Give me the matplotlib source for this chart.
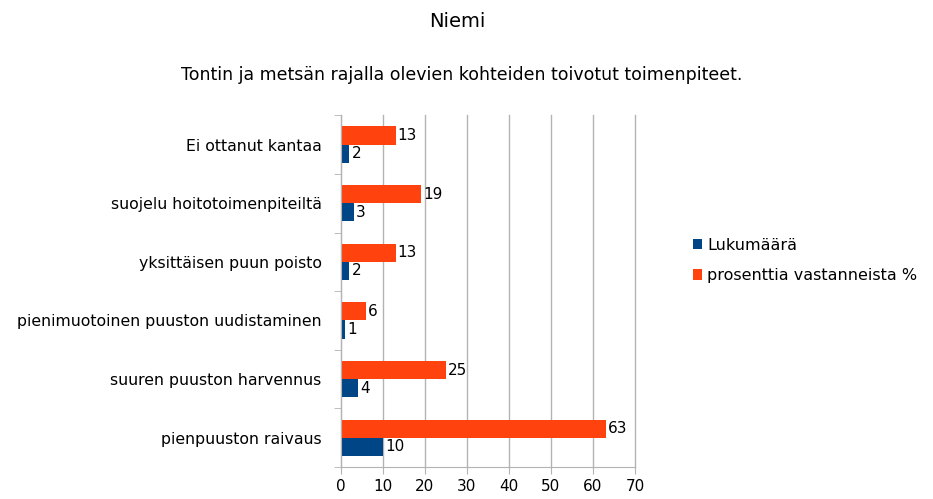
import matplotlib
matplotlib.use('Agg')
import matplotlib.pyplot as plt
import numpy as np

categories = ['Ei ottanut kantaa', 'suojelu hoitotoimenpiteiltä', 'yksittäisen puun poisto',
              'pienimuotoinen puuston uudistaminen', 'suuren puuston harvennus', 'pienpuuston raivaus']
lukumaara = [2, 3, 2, 1, 4, 10]
prosentti = [13, 19, 13, 6, 25, 63]
series_names = ['Lukumäärä', 'prosenttia vastanneista %']
colors = ['#004586', '#ff420e']

plt.rcParams['font.family'] = ['DejaVu Sans']

fig = plt.figure(figsize=(9.33, 4.99), dpi=100)
ax = fig.add_axes([0.3655, 0.064, 0.315, 0.705])

y = np.arange(len(categories))[::-1]
h = 0.31
b1 = ax.barh(y - h / 2, lukumaara, height=h, color=colors[0], label=series_names[0])
b2 = ax.barh(y + h / 2, prosentti, height=h, color=colors[1], label=series_names[1])

for bars, vals in [(b1, lukumaara), (b2, prosentti)]:
    for bar, v in zip(bars, vals):
        ax.text(bar.get_width() + 0.5, bar.get_y() + bar.get_height() / 2, str(v),
                va='center', ha='left', fontsize=11)

ax.set_xlim(0, 70)
ax.set_ylim(-0.5, len(categories) - 0.5)
ax.set_xticks(range(0, 71, 10))
ax.set_yticks(y)
ax.set_yticklabels(categories, fontsize=11.3)
ax.set_yticks(np.arange(-0.5, len(categories), 1), minor=True)
ax.tick_params(axis='y', which='major', length=0, pad=14)
ax.tick_params(axis='y', which='minor', length=5, color='#b3b3b3')
ax.tick_params(axis='x', length=5, color='#b3b3b3', labelsize=11)
ax.xaxis.grid(True, color='#b3b3b3', linewidth=1)
for gl in ax.get_xgridlines():
    gl.set_clip_on(False)
ax.set_axisbelow(True)
for s in ['top', 'right']:
    ax.spines[s].set_visible(False)
for s in ['left', 'bottom']:
    ax.spines[s].set_color('#b3b3b3')

fig.text(0.49, 0.957, 'Niemi', ha='center', va='center', fontsize=14)
fig.text(0.495, 0.85, 'Tontin ja metsän rajalla olevien kohteiden toivotut toimenpiteet.',
         ha='center', va='center', fontsize=12.5)

handles = [b1, b2]
fig.legend(handles, series_names, loc='center left', bbox_to_anchor=(0.727, 0.478),
           frameon=False, fontsize=11.5, handlelength=0.6, handleheight=0.6,
           handletextpad=0.3, labelspacing=0.95)

fig.savefig('out.png', dpi=100)
